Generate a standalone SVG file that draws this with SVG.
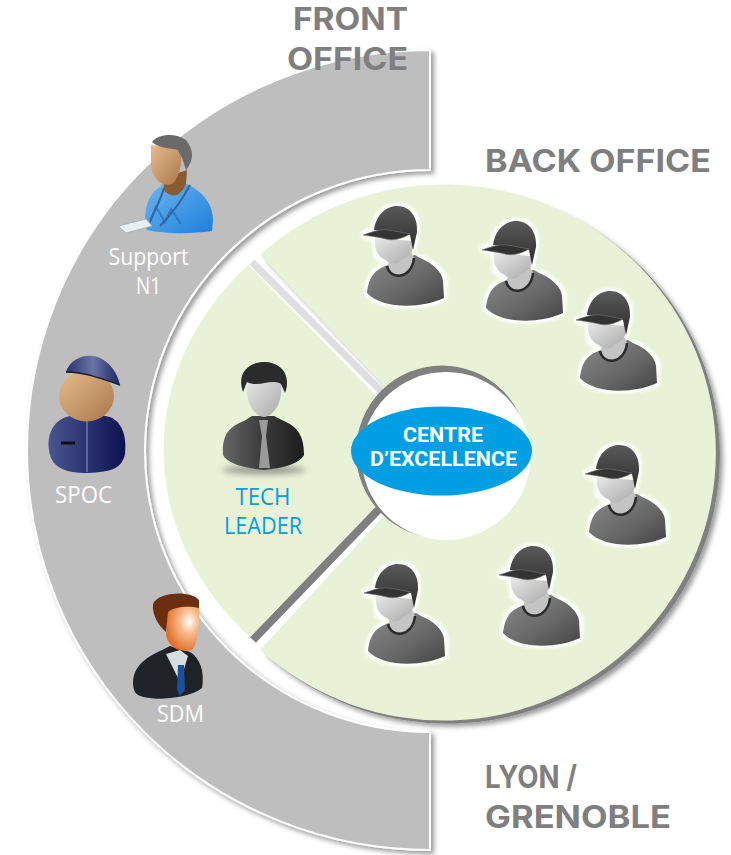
<svg xmlns="http://www.w3.org/2000/svg" width="731" height="855" viewBox="0 0 731 855">
<style>
.title{font-family:"Inter","Liberation Sans",sans-serif;font-weight:700;font-size:31px;fill:#7f7f7f}
.role{font-family:"Open Sans","Liberation Sans",sans-serif;font-weight:400;font-size:23px;fill:#fff;text-anchor:middle}
.lead{font-family:"Open Sans","Liberation Sans",sans-serif;font-weight:400;font-size:23px;fill:#009fe3;text-anchor:middle}
.core{font-family:"Roboto","Liberation Sans",sans-serif;font-weight:700;font-size:20px;fill:#fff;text-anchor:middle}
.green{fill:#e9f2d7}
</style>
<defs>
<filter id="sh" x="-10%" y="-10%" width="125%" height="125%"><feDropShadow dx="3" dy="3" stdDeviation="2.5" flood-color="#000" flood-opacity=".4"/></filter>
<filter id="blur" x="-30%" y="-100%" width="160%" height="300%"><feGaussianBlur stdDeviation="3"/></filter>
<filter id="halo" x="-10%" y="-10%" width="120%" height="120%"><feMorphology operator="dilate" radius="2.500"/><feGaussianBlur stdDeviation=".8"/></filter>
<linearGradient id="gBody" x1="0" y1="0" x2="1" y2="1"><stop offset="0" stop-color="#8a8a8a"/><stop offset=".6" stop-color="#666"/><stop offset="1" stop-color="#444"/></linearGradient>
<linearGradient id="gFace" x1="0" y1="0" x2="1" y2="1"><stop offset="0" stop-color="#e8e8e8"/><stop offset="1" stop-color="#aaa"/></linearGradient>
<linearGradient id="gCap" x1="0" y1="0" x2="0" y2="1"><stop offset="0" stop-color="#5a5a5a"/><stop offset="1" stop-color="#2c2c2c"/></linearGradient>
<linearGradient id="gSuit" x1="0" y1="0" x2="1" y2="0"><stop offset="0" stop-color="#666"/><stop offset=".5" stop-color="#3a3a3a"/><stop offset="1" stop-color="#1d1d1d"/></linearGradient>
<linearGradient id="gSkin" x1="0" y1="0" x2="1" y2="1"><stop offset="0" stop-color="#e6bd8d"/><stop offset="1" stop-color="#a9774a"/></linearGradient>
<radialGradient id="gSkin2" cx=".7" cy=".35" r=".7"><stop offset="0" stop-color="#fff"/><stop offset=".4" stop-color="#f9b98a"/><stop offset="1" stop-color="#e0702c"/></radialGradient>
<linearGradient id="gBlue" x1="0" y1="0" x2="1" y2="1"><stop offset="0" stop-color="#6fb7ee"/><stop offset="1" stop-color="#1d7fdc"/></linearGradient>
<linearGradient id="gNavy" x1="0" y1="0" x2="1" y2="0"><stop offset="0" stop-color="#4a558f"/><stop offset="1" stop-color="#0d1150"/></linearGradient>
<linearGradient id="gNavyCap" x1="0" y1="0" x2="1" y2="0"><stop offset="0" stop-color="#28326e"/><stop offset=".5" stop-color="#6a75a6"/><stop offset="1" stop-color="#1c2460"/></linearGradient>
<g id="capShape">
<path d="M7,88C9,72 14,65 28,60L36,55L60,53C72,58 82,66 85,76L84,93C60,104 22,104 7,88Z"/>
<path d="M3,30L14,24C16,10 26,1 37,1C50,1 58,12 57,25L53,45L48,58L30,60L16,50L15,34Z"/>
</g>
<g id="capGuy">
<use href="#capShape" fill="#fff" opacity=".8" filter="url(#halo)"/>
<path d="M7,88C9,72 14,65 28,60L34,55L55,50L60,53C72,58 82,66 83,76L84,93C60,104 22,104 7,88Z" fill="url(#gBody)"/>
<path d="M28,60C30,74 52,74 54,53L50,44L30,52Z" fill="#c4c4c4"/>
<path d="M27,61C30,76 52,74 54,53" fill="none" stroke="#2b2b2b" stroke-width="2.500"/>
<path d="M15,33L52,36C55,44 50,52 42,54C36,62 28,58 26,55C18,52 14,44 15,33Z" fill="url(#gFace)"/>
<path d="M14,25C16,10 26,1 37,1C50,1 58,12 57,27L53,45L50,30Z" fill="url(#gCap)"/>
<path d="M3,30C12,27 20,24 28,25C36,26 44,28 50,29C42,34 32,36 26,34C18,32 10,31 3,30Z" fill="#333" stroke="#777" stroke-width=".6"/>
</g>
</defs>

<g id="front-office">
<path d="M430,50A403,400 0 0 0 430,850L430,732A285,281 0 0 1 430,170Z" fill="#bebebe" stroke="#fff" stroke-width="2" filter="url(#sh)"/>
</g>

<g id="back-office">
<path d="M260,255A272,268 0 1 1 260,650L395,504L405,408Z" fill="#808080" transform="translate(4,3)" filter="url(#sh)"/>
<path class="green" d="M260,255A272,268 0 1 1 260,650L395,504L405,408Z"/>
</g>
<g id="tech-zone">
<path class="green" d="M248,265A305,268 0 0 0 250,637L395,486L395,415Z"/>
</g>

<g id="connectors">
<path d="M252,262L386,396" stroke="#dfdfdf" stroke-width="7" fill="none"/>
<path d="M253,640L382,506" stroke="#7f7f7f" stroke-width="8" fill="none"/>
</g>

<g id="hub">
<ellipse cx="442" cy="452" rx="86" ry="86.500" fill="#808080"/>
<ellipse cx="446" cy="456" rx="84.500" ry="84" fill="#fff"/>
</g>

<g id="centre">
<ellipse cx="441.500" cy="451" rx="90.500" ry="44.500" fill="#009fe3"/>
<text class="core" x="443" y="442" textLength="80" lengthAdjust="spacingAndGlyphs">CENTRE</text>
<text class="core" x="443.500" y="466" textLength="147" lengthAdjust="spacingAndGlyphs">D’EXCELLENCE</text>
</g>

<g id="worker-1"><use href="#capGuy" x="360" y="205"/></g>
<g id="worker-2"><use href="#capGuy" x="479" y="220"/></g>
<g id="worker-3"><use href="#capGuy" x="573" y="290"/></g>
<g id="worker-4"><use href="#capGuy" x="582" y="444"/></g>
<g id="worker-5"><use href="#capGuy" x="496" y="545"/></g>
<g id="worker-6"><use href="#capGuy" x="361" y="563"/></g>

<g id="tech-leader">
<ellipse cx="264" cy="470" rx="42" ry="4" fill="#555" opacity=".6" filter="url(#blur)"/>
<path d="M223,455C222,436 228,427 244,421L252,416H274L284,421C298,427 304,436 304,455C300,463 285,468 264,470C243,468 227,463 223,455Z" fill="url(#gSuit)"/>
<path d="M259,420L268,420L266,436L270,468L259,468L262,436Z" fill="#9a9a9a"/>
<path d="M247,384C247,376 280,376 281,384C283,402 274,416 264,417C254,416 245,402 247,384Z" fill="url(#gFace)"/>
<path d="M243,392C236,372 250,362 264,362C280,362 292,374 285,393L281,384C272,378 258,388 247,382Z" fill="#2b2b2b"/>
<text class="lead" x="263" y="505" textLength="55" lengthAdjust="spacingAndGlyphs">TECH</text>
<text class="lead" x="263" y="534" textLength="78" lengthAdjust="spacingAndGlyphs">LEADER</text>
</g>

<g id="support-n1">
<path d="M147,230C143,215 146,195 160,187L165,181L187,184C204,192 213,205 213,220L212,231C190,234 165,234 147,230Z" fill="url(#gBlue)"/>
<path d="M150,222C155,210 162,196 164,188M160,226C172,214 182,200 190,185" fill="none" stroke="#3f5fa5" stroke-width="2"/>
<path d="M151,219L156,207L165,222L171,209L181,224" fill="none" stroke="#2668ad" stroke-width="2" opacity=".7"/>
<path d="M118,226L146,219L152,226L126,233Z" fill="#e8eef2" stroke="#9aa" stroke-width=".7"/>
<path d="M164,178L187,170L186,184C180,198 170,198 164,190Z" fill="#8a5a30"/>
<path d="M151,145L181,148C183,165 178,180 172,184C160,188 153,176 151,168Z" fill="url(#gSkin)"/>
<path d="M152,142C158,134 175,132 186,140C194,150 194,160 186,170L182,158L178,150C170,148 158,148 152,142Z" fill="#6a6a6a"/>
<text class="role" x="148.500" y="265" textLength="80" lengthAdjust="spacingAndGlyphs">Support</text>
<text class="role" x="148.500" y="294" textLength="25" lengthAdjust="spacingAndGlyphs">N1</text>
</g>

<g id="spoc">
<path d="M49,450C47,436 52,422 66,417L78,414H96L110,417C122,422 127,436 125,454C122,468 112,472 88,473C62,473 51,466 49,450Z" fill="url(#gNavy)"/>
<path d="M87,420V472" stroke="#8d97c8" stroke-width="1"/>
<path d="M61,443H75" stroke="#111" stroke-width="3"/>
<path d="M78,416L87,420L96,416L87,412Z" fill="#ddd"/>
<ellipse cx="86.500" cy="396" rx="27.500" ry="25.500" fill="url(#gSkin)"/>
<path d="M66,372C70,358 88,352 100,358C110,363 117,372 120,385C106,380 85,372 66,372Z" fill="url(#gNavyCap)"/>
<path d="M66,372C85,372 106,380 120,385" fill="none" stroke="#1a1a2a" stroke-width="1.500"/>
<text class="role" x="83.500" y="503" textLength="57" lengthAdjust="spacingAndGlyphs">SPOC</text>
</g>

<g id="sdm">
<path d="M134,690C130,672 140,660 160,651L170,646L190,652C200,658 205,672 202,688C190,698 160,700 150,698C140,697 136,695 134,690Z" fill="#1f2226"/>
<path d="M166,654L180,682L188,656L180,650Z" fill="#d8dde0"/>
<path d="M178,665H184L185,690L180,696L177,690Z" fill="#1b4fa0"/>
<path d="M168,606H199C200,625 197,645 192,650C182,652 170,650 166,636Z" fill="url(#gSkin2)"/>
<path d="M153,604C158,592 190,590 199,600V608C190,606 175,606 168,612L166,632C158,625 152,615 153,604Z" fill="#6b2f10"/>
<text class="role" x="180.500" y="722" textLength="47" lengthAdjust="spacingAndGlyphs">SDM</text>
</g>

<g id="titles">
<text class="title" x="293" y="30" textLength="115" lengthAdjust="spacingAndGlyphs">FRONT</text>
<text class="title" x="287" y="70" textLength="121" lengthAdjust="spacingAndGlyphs">OFFICE</text>
<text class="title" x="485" y="172" textLength="226" lengthAdjust="spacingAndGlyphs">BACK OFFICE</text>
<text class="title" x="485" y="788" textLength="92" lengthAdjust="spacingAndGlyphs">LYON /</text>
<text class="title" x="485" y="828" textLength="186" lengthAdjust="spacingAndGlyphs">GRENOBLE</text>
</g>
</svg>
